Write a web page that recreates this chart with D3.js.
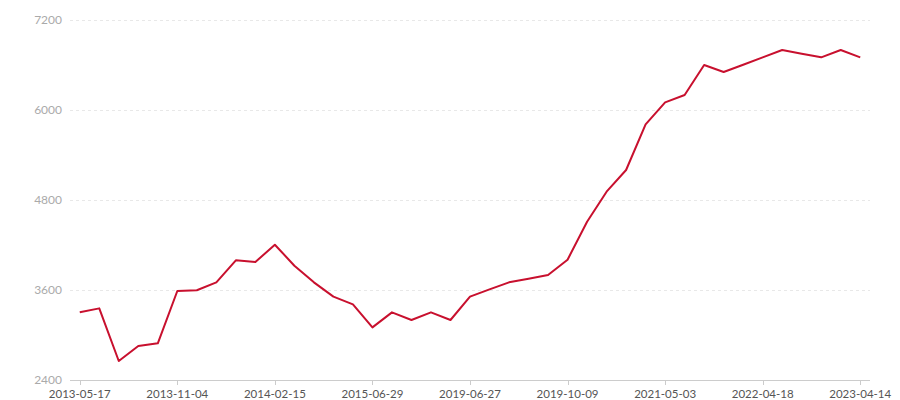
<!DOCTYPE html>
<html><head><meta charset="utf-8">
<script src="https://cdn.jsdelivr.net/npm/d3@7/dist/d3.min.js"></script>
<style>body{margin:0;background:#fff;}svg{display:block;font-family:Lato,"Noto Sans",sans-serif;}</style>
</head><body><svg id="c" width="900" height="400"></svg>
<script>
const categories = ["2013-05-17","2013-06-14","2013-07-12","2013-08-16","2013-09-13","2013-11-04","2013-11-22","2013-12-13","2014-01-03","2014-01-24","2014-02-15","2014-04-11","2014-06-20","2014-09-12","2014-12-19","2015-06-29","2015-10-16","2016-03-11","2016-09-23","2017-03-17","2019-06-27","2019-07-15","2019-08-02","2019-08-26","2019-09-12","2019-10-09","2020-01-17","2020-05-22","2020-09-11","2021-01-15","2021-05-03","2021-06-18","2021-08-06","2021-10-15","2021-12-24","2022-04-18","2022-07-08","2022-09-30","2022-12-09","2023-02-17","2023-04-14"];
const values = [3302,3355,2653,2853,2889,3587,3596,3702,3996,3973,4204,3924,3702,3511,3409,3102,3302,3200,3302,3200,3511,3609,3702,3751,3800,4004,4511,4911,5200,5809,6102,6200,6600,6507,6604,6702,6800,6751,6702,6800,6702];
const yTicks = [2400,3600,4800,6000,7200];

const svg = d3.select("#c");
const m = {left:70, right:30, top:20, bottom:20};
const W = 900, H = 400;
const x = d3.scaleBand().domain(categories).range([m.left, W - m.right]);
const y = d3.scaleLinear().domain([2400,7200]).range([H - m.bottom, m.top]);
const cx = d => x(d) + x.bandwidth()/2;

// grid
svg.append("g").selectAll("line").data(yTicks.slice(1)).join("line")
  .attr("x1", m.left).attr("x2", W - m.right)
  .attr("y1", d => Math.round(y(d)) + 0.5).attr("y2", d => Math.round(y(d)) + 0.5)
  .attr("stroke", "#e8e8e8").attr("stroke-dasharray", "3,3");

// y labels
svg.append("g").selectAll("text").data(yTicks).join("text")
  .attr("x", 62).attr("y", d => y(d) + 3.5)
  .attr("text-anchor", "end").attr("fill", "#aaa").attr("font-size", 12)
  .text(d => d);

// x axis
svg.append("line").attr("x1", m.left).attr("x2", W - m.right)
  .attr("y1", H - m.bottom + 0.5).attr("y2", H - m.bottom + 0.5)
  .attr("stroke", "#ccc");
const shown = categories.filter((d,i) => i % 5 === 0);
const xg = svg.append("g");
xg.selectAll("line").data(shown).join("line")
  .attr("x1", d => Math.round(cx(d)) + 0.5).attr("x2", d => Math.round(cx(d)) + 0.5)
  .attr("y1", H - m.bottom).attr("y2", H - m.bottom + 5).attr("stroke", "#ccc");
xg.selectAll("text").data(shown).join("text")
  .attr("x", d => cx(d)).attr("y", 397.5)
  .attr("text-anchor", "middle").attr("fill", "#555").attr("font-size", 11.5)
  .text(d => d);

// line
const line = d3.line().x((d,i) => cx(categories[i])).y(d => y(d));
svg.append("path").datum(values).attr("d", line)
  .attr("fill", "none").attr("stroke", "#c8102e").attr("stroke-width", 2)
  .attr("stroke-linejoin", "round");
</script></body></html>
